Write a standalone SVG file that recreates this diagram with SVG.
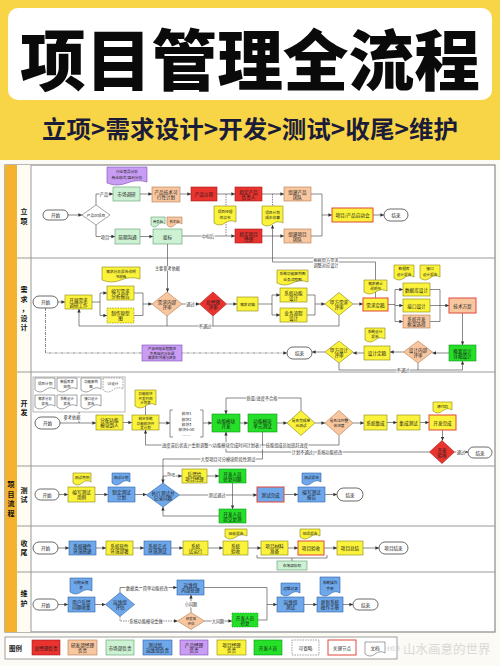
<svg xmlns="http://www.w3.org/2000/svg" width="500" height="666" viewBox="0 0 500 666">
<defs>
<marker id="a" markerUnits="userSpaceOnUse" markerWidth="4" markerHeight="4" refX="3.6" refY="2" orient="auto"><path d="M0,0.3 L3.8,2 L0,3.7 z" fill="#333"/></marker>
<style>
.t{font-family:"Noto Sans CJK SC","Noto Sans",sans-serif;font-size:4.6px;text-anchor:middle;dominant-baseline:central;fill:#1a1a1a}
.sm{font-size:3.7px}
.xs{font-size:3.4px}
.s3{font-size:3.5px}
.lb{font-family:"Noto Sans CJK SC","Noto Sans",sans-serif;font-size:4.2px;text-anchor:middle;dominant-baseline:central;fill:#333;paint-order:stroke;stroke:#fff;stroke-width:1.5px;stroke-linejoin:round}
.ln{font-family:"Noto Sans CJK SC",sans-serif;font-size:7px;font-weight:700;text-anchor:middle;dominant-baseline:central;fill:#111}
.red{fill:#e8332f;stroke:#a31c18;stroke-width:.6}
.org{fill:#f8c7a0;stroke:#b27a4e;stroke-width:.6}
.lg{fill:#cdf1d3;stroke:#5e9c6c;stroke-width:.6}
.blu{fill:#6ea7ea;stroke:#2e63a6;stroke-width:.6}
.pur{fill:#c99df3;stroke:#7b4db2;stroke-width:.6}
.yel{fill:#faf23b;stroke:#8b8512;stroke-width:.6}
.grn{fill:#25df28;stroke:#12971a;stroke-width:.6}
.wht{fill:#fff;stroke:#666;stroke-width:.6}
.key{stroke:#e2463c;stroke-width:1}
.dsh{stroke-dasharray:1.6 1}
.term{fill:#fff;stroke:#444;stroke-width:.8}
.c path{fill:none;stroke:#3a3a3a;stroke-width:.6}
.c .d{stroke-dasharray:1.5 1}
.c .dd{stroke-dasharray:3 1 1 1}
</style>
</defs>
<rect x="0" y="0" width="500" height="666" fill="#fbfaf4"/>
<rect x="0" y="0" width="500" height="160" fill="#f8d546"/>
<rect x="8" y="8" width="484" height="92" rx="10" fill="#fff"/>
<text x="250" y="56" font-family="Noto Sans CJK SC, sans-serif" font-size="66" font-weight="900" text-anchor="middle" dominant-baseline="central" fill="#0a0a0a" textLength="460" lengthAdjust="spacingAndGlyphs">项目管理全流程</text>
<text x="250" y="127" font-family="Noto Sans CJK SC, sans-serif" font-size="24" font-weight="700" text-anchor="middle" dominant-baseline="central" fill="#1b1b3a" textLength="416" lengthAdjust="spacingAndGlyphs">立项&gt;需求设计&gt;开发&gt;测试&gt;收尾&gt;维护</text>

<g id="frame">
<rect x="5" y="165" width="490" height="467" fill="#fff" stroke="#8a8a8a" stroke-width="1.2"/>
<rect x="5" y="165" width="12" height="467" fill="#f5b22e"/>
<rect x="17" y="165" width="14" height="467" fill="#fffdf3"/>
<path d="M17,258 H495 M17,372 H495 M17,466 H495 M17,526 H495 M17,572 H495 M31,165 V632" stroke="#9a9a9a" stroke-width="1" fill="none"/>
<text class="ln" x="11" y="484">项<tspan x="11" y="493.5">目</tspan><tspan x="11" y="503">流</tspan><tspan x="11" y="512.5">程</tspan></text>
<text class="ln" x="24" y="211">立<tspan x="24" y="220.5">项</tspan></text>
<text class="ln" x="24" y="289">需<tspan x="24" y="298.5">求</tspan><tspan x="25" y="308">，</tspan><tspan x="24" y="317.5">设</tspan><tspan x="24" y="327">计</tspan></text>
<text class="ln" x="24" y="402.5">开<tspan x="24" y="412">发</tspan></text>
<text class="ln" x="24" y="489.5">测<tspan x="24" y="499">试</tspan></text>
<text class="ln" x="24" y="542.5">收<tspan x="24" y="552">尾</tspan></text>
<text class="ln" x="24" y="593">维<tspan x="24" y="603">护</tspan></text>
</g>

<g id="connectors" class="c">
<path d="M68,215 H82" marker-end="url(#a)"/>
<path d="M96,205 V194 H113" marker-end="url(#a)"/>
<path d="M96,225 V236.5 H115" marker-end="url(#a)"/>
<path d="M140,194 H152" marker-end="url(#a)"/>
<path d="M180,194 H191" marker-end="url(#a)"/>
<path d="M217,194 H235" marker-end="url(#a)"/>
<path d="M262,194 H284" marker-end="url(#a)"/>
<path d="M140,236.5 H153" marker-end="url(#a)"/>
<path d="M182,236 H235" marker-end="url(#a)"/>
<path d="M262,236 H284" marker-end="url(#a)"/>
<path d="M311,194 H322 V236 H311"/>
<path d="M322,215 H332" marker-end="url(#a)"/>
<path d="M373,215 H384" marker-end="url(#a)"/>
<path class="d" d="M226,194 V236"/>
<path class="d" d="M272.5,194 V206"/>
<path d="M375.5,298 V262 H272.5 V225" marker-end="url(#a)"/>
<path d="M167.5,244 V292" marker-end="url(#a)"/>

<path d="M58,302 H65" marker-end="url(#a)"/>
<path d="M92,302 H100"/>
<path d="M100,302 V293 H107" marker-end="url(#a)"/>
<path d="M100,302 V315.5 H107" marker-end="url(#a)"/>
<path d="M134,293 H143 V315.5 H134"/>
<path d="M143,304 H152" marker-end="url(#a)"/>
<path d="M182,304 H199.5" marker-end="url(#a)"/>
<path d="M226.5,304 H237" marker-end="url(#a)"/>
<path d="M258,304 H272"/>
<path d="M272,304 V295 H280" marker-end="url(#a)"/>
<path d="M272,304 V315 H280" marker-end="url(#a)"/>
<path d="M307,295 H315 V315 H307"/>
<path d="M315,304 H325" marker-end="url(#a)"/>
<path d="M353,304 H363" marker-end="url(#a)"/>
<path d="M388,304.5 H395"/>
<path d="M395,304.5 V289.5 H403" marker-end="url(#a)"/>
<path d="M395,304.5 V321.5 H403" marker-end="url(#a)"/>
<path d="M395,305.5 H403" marker-end="url(#a)"/>
<path d="M430,289.5 H440 V321.5 H430 M430,305.5 H440"/>
<path d="M440,305.5 H449" marker-end="url(#a)"/>
<path d="M462.5,313 V345" marker-end="url(#a)"/>
<path d="M449,353 H432.5" marker-end="url(#a)"/>
<path d="M403.5,352 H390" marker-end="url(#a)"/>
<path d="M364,353 H353" marker-end="url(#a)"/>
<path d="M325,352 H312" marker-end="url(#a)"/>
<path d="M167,316 V326 M213,316 V326"/>
<path d="M339,315.5 V326 H79 V309" marker-end="url(#a)"/>
<path d="M418,363 V370"/>
<path d="M339,363 V370 H462.5 V361" marker-end="url(#a)"/>
<path class="dd" d="M45.5,308 V353 H287" marker-end="url(#a)"/>

<path d="M79,412 V423"/>
<path d="M60,423 H96" marker-end="url(#a)"/>
<path d="M123,422.5 H132" marker-end="url(#a)"/>
<path d="M145.5,406 V415"/>
<path d="M159,423 H170" marker-end="url(#a)"/>
<path d="M203,423 H212" marker-end="url(#a)"/>
<path d="M240,423 H248" marker-end="url(#a)"/>
<path d="M277,423 H287" marker-end="url(#a)"/>
<path d="M315,423 H325" marker-end="url(#a)"/>
<path d="M353,423 H364" marker-end="url(#a)"/>
<path d="M387,422.5 H397" marker-end="url(#a)"/>
<path d="M420,422.5 H429" marker-end="url(#a)"/>
<path d="M442.5,430 V440.5" marker-end="url(#a)"/>
<path d="M454.5,452 H468" marker-end="url(#a)"/>
<path d="M301,410.5 V398 H226 V414" marker-end="url(#a)"/>
<path d="M339,435.5 V445 H145.5 V430" marker-end="url(#a)"/>
<path d="M429.5,452 H226 V432" marker-end="url(#a)"/>
<path d="M262.5,432 V459 H163 V483" marker-end="url(#a)"/>

<path d="M59,494.5 H68" marker-end="url(#a)"/>
<path d="M95,494.5 H108" marker-end="url(#a)"/>
<path d="M135,494.5 H146.5" marker-end="url(#a)"/>
<path d="M179.5,495 H257" marker-end="url(#a)"/>
<path d="M163,483 V476 H182" marker-end="url(#a)"/>
<path d="M207,476 H219" marker-end="url(#a)"/>
<path d="M232.5,483 V509" marker-end="url(#a)"/>
<path d="M219,516 H163 V507" marker-end="url(#a)"/>
<path d="M284,494.5 H298" marker-end="url(#a)"/>
<path d="M325,494.5 H337" marker-end="url(#a)"/>

<path d="M58,548 H69" marker-end="url(#a)"/>
<path d="M96,548 H106" marker-end="url(#a)"/>
<path d="M133,548 H144" marker-end="url(#a)"/>
<path d="M171,548 H183" marker-end="url(#a)"/>
<path d="M208,548 H223" marker-end="url(#a)"/>
<path d="M248,548 H261" marker-end="url(#a)"/>
<path d="M288,548 H298" marker-end="url(#a)"/>
<path d="M324,548 H337" marker-end="url(#a)"/>
<path d="M363,548 H379" marker-end="url(#a)"/>
<path d="M257,555 V558 H327 V555 M292,558 V561"/>

<path d="M58,604.5 H68" marker-end="url(#a)"/>
<path d="M95,604.5 H105.5" marker-end="url(#a)"/>
<path d="M120,592.5 V587.5 H177" marker-end="url(#a)"/>
<path class="d" d="M120,616.5 V621 H177.5" marker-end="url(#a)"/>
<path d="M191,612.5 V595" marker-end="url(#a)"/>
<path d="M204.5,621 H232" marker-end="url(#a)"/>
<path d="M204,587.5 H267 V604.5 M258,620 H267 V604.5"/>
<path d="M267,604.5 H277" marker-end="url(#a)"/>
<path d="M304,604.5 H317" marker-end="url(#a)"/>
<path d="M343,604.5 H353" marker-end="url(#a)"/>
</g>

<g id="labels">
<text class="lb" x="104" y="194">产品</text>
<text class="lb" x="105" y="236.5">项目</text>
<text class="lb" x="208" y="236">中标后</text>
<text class="lb" x="167.5" y="268">主要参考依据</text>
<text class="lb" x="326" y="259.5">根据甲方需求<tspan x="326" y="265">调整对应设计</tspan></text>
<text class="lb" x="190.5" y="304">通过</text>
<text class="lb" x="205" y="326">不通过</text>
<text class="lb" x="403" y="370">不通过</text>
<text class="lb" x="72" y="416.5">参考依据</text>
<text class="lb" x="262" y="398">质量/进度不合格</text>
<text class="lb" x="235" y="445" font-size="4" textLength="146" lengthAdjust="spacingAndGlyphs">进度滞后状态，重新调整（功能模块完成时间计划表），技能组成员加班赶进度</text>
<text class="lb" x="317" y="452">计划不通过，系统功能修改</text>
<text class="lb" x="228" y="459">大型项目可分模块阶段性测试</text>
<text class="lb" x="461" y="452">通过</text>
<text class="lb" x="171" y="473.5">Bug</text>
<text class="lb" x="217" y="495">测试通过</text>
<text class="lb" x="147" y="587.5">数据类、简单功能修改</text>
<text class="lb" x="146" y="621">系统功能模块重做</text>
<text class="lb" x="191" y="604">小问题</text>
<text class="lb" x="218" y="621">大问题</text>
</g>

<g id="lixiang">
<g id="lx-start"><rect class="term" x="43" y="210" width="25" height="10" rx="5"/><text class="t" x="55.5" y="215">开始</text></g>
<g id="lx-choice"><polygon class="wht" points="82,215 96,205 110,215 96,225"/><text class="t sm" x="96" y="215">产品or项目</text></g>
<g id="lx-doc-jingpin"><path class="pur" d="M107,167 H147 V182 Q137,179 127,183 T107,183 Z"/><text class="t sm" x="127" y="171.5">行业竞品分析<tspan x="127" y="176.5">商业模式/盈利分析</tspan></text></g>
<g id="lx-shichang"><rect class="lg" x="113" y="187" width="27" height="14"/><text class="t" x="126.5" y="194">市场调研</text></g>
<g id="lx-kexing"><rect class="org" x="152" y="187" width="28" height="15"/><text class="t" x="166" y="192">产品技术可<tspan x="166" y="197">行性计划</tspan></text></g>
<g id="lx-lixiang"><rect class="red" x="191" y="187" width="26" height="14"/><text class="t" x="204" y="194">产品立项</text></g>
<g id="lx-fuzeren"><rect class="red" x="235" y="187" width="27" height="14"/><text class="t" x="248.5" y="191.5">指定产品<tspan x="248.5" y="196.5">负责人</tspan></text></g>
<g id="lx-chanpintuandui"><rect class="org" x="284" y="187" width="27" height="14"/><text class="t" x="297.5" y="191.5">组建产品<tspan x="297.5" y="196.5">团队</tspan></text></g>
<g id="lx-goutong"><rect class="lg" x="115" y="229" width="25" height="15"/><text class="t" x="127.5" y="236.5">前期沟通</text></g>
<g id="lx-doc-shangwu"><path class="lg" d="M151,217 H165 V224 Q161.5,221 158,225 T151,225 Z"/><text class="t xs" x="158" y="221">商务标</text></g>
<g id="lx-doc-jishu"><path class="org" d="M167,217 H182 V224 Q178.25,221 174.5,225 T167,225 Z"/><text class="t xs" x="174.5" y="221">技术标</text></g>
<g id="lx-toubiao"><rect class="lg" x="153" y="229" width="29" height="15"/><text class="t" x="167.5" y="236.5">投标</text></g>
<g id="lx-jingli"><rect class="red" x="235" y="229" width="27" height="14"/><text class="t" x="248.5" y="233.5">指定项目<tspan x="248.5" y="238.5">经理</tspan></text></g>
<g id="lx-xiangmutuandui"><rect class="org" x="284" y="229" width="27" height="14"/><text class="t" x="297.5" y="233.5">组建项目<tspan x="297.5" y="238.5">团队</tspan></text></g>
<g id="lx-doc-renming"><path class="yel" d="M214,206 H236 V222 Q230.5,219 225,223 T214,223 Z"/><text class="t sm" x="225" y="211.5">项目经理<tspan x="225" y="216.5">任命书</tspan></text></g>
<g id="lx-doc-jihua"><path class="yel" d="M262,206 H283 V223 Q277.75,220 272.5,224 T262,224 Z"/><text class="t sm" x="272.5" y="212">项目计划<tspan x="272.5" y="217">成本估算</tspan></text></g>
<g id="lx-qidong"><rect class="yel key" x="332" y="208" width="41" height="14"/><text class="t" x="352.5" y="215">项目/产品启动会</text></g>
<g id="lx-end"><rect class="term" x="384" y="209" width="24" height="12" rx="6"/><text class="t" x="396" y="215">结束</text></g>
</g>

<g id="xuqiu">
<g id="xq-start"><rect class="term" x="33" y="296" width="25" height="12" rx="6"/><text class="t" x="45.5" y="302">开始</text></g>
<g id="xq-diaoyan"><rect class="yel" x="65" y="295" width="27" height="14"/><text class="t" x="78.5" y="299.5">开展需求<tspan x="78.5" y="304.5">调研工作</tspan></text></g>
<g id="xq-doc-moban"><path class="yel" d="M102,267 H140 V279 Q130.5,276 121,280 T102,280 Z"/><text class="t sm" x="121" y="271">需求分析报告说明<tspan x="121" y="275.6">书模板</tspan></text></g>
<g id="xq-baogao"><rect class="yel" x="107" y="286" width="27" height="14"/><text class="t" x="120.5" y="290.5">编写需求<tspan x="120.5" y="295.5">分析报告</tspan></text></g>
<g id="xq-yuanxing"><rect class="yel dsh" x="107" y="308" width="27" height="15"/><text class="t" x="120.5" y="313">制作原型<tspan x="120.5" y="318">图</tspan></text></g>
<g id="xq-neiping"><polygon class="org" points="152,304 167,292 182,304 167,316"/><text class="t" x="167" y="301.5">需求内部<tspan x="167" y="306.5">评审</tspan></text></g>
<g id="xq-zongjingli"><polygon class="red" points="199.5,304 213,292 226.5,304 213,316"/><text class="t" x="213" y="301.5">总经理<tspan x="213" y="306.5">评审</tspan></text></g>
<g id="xq-chugao"><rect class="yel" x="237" y="297" width="21" height="14"/><text class="t sm" x="247.5" y="304">需求初稿</text></g>
<g id="xq-doc-jiagou"><path class="yel" d="M277,270 H308 V282 Q300.25,279 292.5,283 T277,283 Z"/><text class="t sm" x="292.5" y="273.9">系统功能架构图<tspan x="292.5" y="278.5">业务流程图</tspan></text></g>
<g id="xq-gongneng"><rect class="yel" x="280" y="288" width="27" height="14"/><text class="t" x="293.5" y="292.5">系统功能<tspan x="293.5" y="297.5">设计</tspan></text></g>
<g id="xq-liucheng"><rect class="yel" x="280" y="308" width="27" height="14"/><text class="t" x="293.5" y="312.5">业务流程<tspan x="293.5" y="317.5">设计</tspan></text></g>
<g id="xq-jiafang"><polygon class="yel" points="325,304 339,292.5 353,304 339,315.5"/><text class="t" x="339" y="301.5">甲方需求<tspan x="339" y="306.5">评审</tspan></text></g>
<g id="xq-doc-queren"><path class="yel" d="M364,280 H387 V291 Q381.25,288 375.5,292 T364,292 Z"/><text class="t sm" x="375.5" y="283.4">需求确认<tspan x="375.5" y="288">说明书</tspan></text></g>
<g id="xq-dinggao"><rect class="yel key" x="363" y="298" width="25" height="13"/><text class="t" x="375.5" y="304.5">需求定稿</text></g>
<g id="xq-doc-shujuku"><path class="yel" d="M394,265 H414 V277 Q409,274 404,278 T394,278 Z"/><text class="t sm" x="404" y="268.9">数据库<tspan x="404" y="273.5">设计报告</tspan></text></g>
<g id="xq-doc-jiekou"><path class="yel" d="M420,265 H440 V277 Q435,274 430,278 T420,278 Z"/><text class="t sm" x="430" y="268.9">接口<tspan x="430" y="273.5">设计报告</tspan></text></g>
<g id="xq-shujuku"><rect class="yel" x="403" y="283" width="27" height="13"/><text class="t" x="416.5" y="289.5">数据库设计</text></g>
<g id="xq-jiekou"><rect class="yel" x="403" y="299" width="27" height="13"/><text class="t" x="416.5" y="305.5">接口设计</text></g>
<g id="xq-kuangjia"><rect class="org" x="403" y="315" width="27" height="13"/><text class="t" x="416.5" y="319.1">系统开发<tspan x="416.5" y="324">框架选择</tspan></text></g>
<g id="xq-fangan"><rect class="org key" x="449" y="298" width="27" height="15"/><text class="t" x="462.5" y="305.5">技术方案</text></g>
<g id="xq-gaiyao"><rect class="grn" x="449" y="345" width="27" height="16"/><text class="t" x="462.5" y="350.5">概要设计<tspan x="462.5" y="355.5">详细设计</tspan></text></g>
<g id="xq-sheji-neiping"><polygon class="org" points="403.5,352 418,341 432.5,352 418,363"/><text class="t" x="418" y="349.5">设计内部<tspan x="418" y="354.5">评审</tspan></text></g>
<g id="xq-doc-sheji"><path class="yel" d="M365,328 H385 V339 Q380,336 375,340 T365,340 Z"/><text class="t sm" x="375" y="331.4">系统设计<tspan x="375" y="336">报告</tspan></text></g>
<g id="xq-sheji-dinggao"><rect class="yel" x="364" y="346" width="26" height="14"/><text class="t" x="377" y="353">设计定稿</text></g>
<g id="xq-sheji-jiafang"><polygon class="yel" points="325,352 339,341 353,352 339,363"/><text class="t" x="339" y="349.5">甲方设计<tspan x="339" y="354.5">评审</tspan></text></g>
<g id="xq-end"><rect class="term" x="287" y="347" width="25" height="12" rx="6"/><text class="t" x="299.5" y="353">结束</text></g>
<g id="xq-chanpinjingli"><rect class="pur" x="142" y="345" width="40" height="16"/><text class="t s3" x="162" y="348.6">产品经理全程跟进<tspan x="162" y="353">负责组织与协调</tspan><tspan x="162" y="357.4">需求的沟通与把关</tspan></text></g>
</g>

<g id="kaifa">
<g id="kf-docs">
<rect x="33" y="377" width="92" height="35" fill="#fff" stroke="#888" stroke-width=".6"/>
<path class="wht" d="M35,378 H55 V389 Q50,386 45,390 T35,390 Z"/><text class="t sm" x="45" y="383.5">项目计划</text>
<path class="wht" d="M57,378 H77 V389 Q72,386 67,390 T57,390 Z"/><text class="t xs" x="67" y="381.5">数据库表<tspan x="67" y="386">结构</tspan></text>
<path class="wht" d="M81,378 H101 V389 Q96,386 91,390 T81,390 Z"/><text class="t xs" x="91" y="381.5">功能架构<tspan x="91" y="386">图</tspan></text>
<path class="wht dsh" d="M103,378 H123 V389 Q118,386 113,390 T103,390 Z"/><text class="t sm" x="113" y="383.5">UI设计</text>
<path class="wht" d="M35,395 H55 V406 Q50,403 45,407 T35,407 Z"/><text class="t xs" x="45" y="398.5">需求分析<tspan x="45" y="403">报告</tspan></text>
<path class="wht" d="M57,395 H77 V406 Q72,403 67,407 T57,407 Z"/><text class="t xs" x="67" y="398.5">系统设计<tspan x="67" y="403">报告</tspan></text>
<path class="wht" d="M81,395 H101 V406 Q96,403 91,407 T81,407 Z"/><text class="t xs" x="91" y="398.5">接口设计<tspan x="91" y="403">报告</tspan></text>
</g>
<g id="kf-start"><rect class="term" x="35" y="417" width="25" height="12" rx="6"/><text class="t" x="47.5" y="423">开始</text></g>
<g id="kf-fenpei"><rect class="yel" x="96" y="415" width="27" height="15"/><text class="t" x="109.5" y="420">分配功能<tspan x="109.5" y="425">模块到人</tspan></text></g>
<g id="kf-doc-jihua"><path class="yel" d="M135,390 H156 V405 Q150.75,402 145.5,406 T135,406 Z"/><text class="t s3" x="145.5" y="393.4">功能模块<tspan x="145.5" y="397.8">开发时间</tspan><tspan x="145.5" y="402.2">计划表</tspan></text></g>
<g id="kf-zhiding"><rect class="yel" x="132" y="415" width="27" height="15"/><text class="t s3" x="145.5" y="418.1">制定系统<tspan x="145.5" y="422.5">功能模块开</tspan><tspan x="145.5" y="426.9">发计划</tspan></text></g>
<g id="kf-mokuai"><path d="M173,410 H170 V437 H173 M200,410 H203 V437 H200" fill="none" stroke="#444" stroke-width=".6"/><text class="t sm" x="186.5" y="413.5">模块1<tspan x="186.5" y="418.5">模块2</tspan><tspan x="186.5" y="423.5">模块3</tspan><tspan x="186.5" y="428.5">模块4+5n</tspan><tspan x="186.5" y="433.5">……</tspan></text></g>
<g id="kf-kaifa"><rect class="grn" x="212" y="414" width="28" height="18"/><text class="t" x="226" y="420.5">功能模块<tspan x="226" y="425.5">开发</tspan></text></g>
<g id="kf-danyuan"><rect class="grn" x="248" y="414" width="29" height="18"/><text class="t" x="262.5" y="420.5">功能模块<tspan x="262.5" y="425.5">单元测试</tspan></text></g>
<g id="kf-wancheng-pd"><polygon class="yel" points="287,423 301,410.5 315,423 301,435.5"/><text class="t sm" x="301" y="420.6">是否完成单<tspan x="301" y="425.3">元测试</tspan></text></g>
<g id="kf-jindu-pd"><polygon class="org" points="325,423 339,410.5 353,423 339,435.5"/><text class="t sm" x="339" y="420.6">是否达到整<tspan x="339" y="425.3">体进度</tspan></text></g>
<g id="kf-jicheng"><rect class="yel" x="364" y="415" width="23" height="15"/><text class="t" x="375.5" y="422.5">系统集成</text></g>
<g id="kf-jiceshi"><rect class="yel" x="397" y="415" width="23" height="15"/><text class="t" x="408.5" y="422.5">集成测试</text></g>
<g id="kf-wancheng"><rect class="yel key" x="429" y="415" width="27" height="15"/><text class="t" x="442.5" y="422.5">开发完成</text></g>
<g id="kf-doc-code"><path class="yel" d="M433,402 H452 V410 Q447.25,407 442.5,411 T433,411 Z"/><text class="t sm" x="442.5" y="406">源代码</text></g>
<g id="kf-yanshou"><polygon class="red" points="429.5,452 442,440.5 454.5,452 442,463.5"/><text class="t" x="442" y="449.5">开发<tspan x="442" y="454.5">验收</tspan></text></g>
<g id="kf-end"><rect class="term" x="468" y="447" width="24" height="11" rx="5.5"/><text class="t" x="480" y="452.5">结束</text></g>
</g>

<g id="ceshi">
<g id="cs-start"><rect class="term" x="35" y="489" width="24" height="11" rx="5.5"/><text class="t" x="47" y="494.5">开始</text></g>
<g id="cs-doc-yongli"><path class="yel" d="M73,473 H91 V482 Q86.5,479 82,483 T73,483 Z"/><text class="t sm" x="82" y="477.5">测试用例</text></g>
<g id="cs-yongli"><rect class="yel" x="68" y="487" width="27" height="15"/><text class="t" x="81.5" y="492">编写测试<tspan x="81.5" y="497">用例</tspan></text></g>
<g id="cs-doc-jihua"><path class="blu" d="M112,473 H130 V482 Q125.5,479 121,483 T112,483 Z"/><text class="t sm" x="121" y="477.5">测试计划</text></g>
<g id="cs-jihua"><rect class="blu" x="108" y="487" width="27" height="15"/><text class="t" x="121.5" y="492">制定测试<tspan x="121.5" y="497">计划</tspan></text></g>
<g id="cs-zhixing"><polygon class="blu" points="146.5,495 163,483 179.5,495 163,507"/><text class="t" x="163" y="492.5">执行测试并<tspan x="163" y="497.5">记录问题</tspan></text></g>
<g id="cs-fankui"><rect class="yel" x="182" y="469" width="25" height="14"/><text class="t" x="194.5" y="473.5">反馈给<tspan x="194.5" y="478.5">项目经理</tspan></text></g>
<g id="cs-xiufu"><rect class="grn" x="219" y="469" width="27" height="14"/><text class="t" x="232.5" y="473.5">开发人员<tspan x="232.5" y="478.5">修复问题</tspan></text></g>
<g id="cs-fuce"><rect class="grn" x="219" y="509" width="27" height="14"/><text class="t" x="232.5" y="513.5">开发人员<tspan x="232.5" y="518.5">提交复测</tspan></text></g>
<g id="cs-wancheng"><rect class="blu key" x="257" y="487" width="27" height="15"/><text class="t" x="270.5" y="494.5">测试完成</text></g>
<g id="cs-doc-baogao"><path class="blu" d="M302,473 H321 V482 Q316.25,479 311.5,483 T302,483 Z"/><text class="t sm" x="311.5" y="477.5">测试报告</text></g>
<g id="cs-baogao"><rect class="blu" x="298" y="487" width="27" height="15"/><text class="t" x="311.5" y="492">编写测试<tspan x="311.5" y="497">报告</tspan></text></g>
<g id="cs-end"><rect class="term" x="337" y="488" width="26" height="13" rx="6.5"/><text class="t" x="350" y="494.5">结束</text></g>
</g>

<g id="shouwei">
<g id="sw-start"><rect class="term" x="33" y="542" width="25" height="12" rx="6"/><text class="t" x="45.5" y="548">开始</text></g>
<g id="sw-yingjian"><rect class="blu" x="69" y="541" width="27" height="14"/><text class="t" x="82.5" y="545.5">系统硬件<tspan x="82.5" y="550.5">环境搭建</tspan></text></g>
<g id="sw-ruanjian"><rect class="yel" x="106" y="541" width="27" height="14"/><text class="t" x="119.5" y="545.5">系统软件<tspan x="119.5" y="550.5">环境部署</tspan></text></g>
<g id="sw-zhengshi"><rect class="blu" x="144" y="541" width="27" height="14"/><text class="t" x="157.5" y="545.5">系统正式<tspan x="157.5" y="550.5">环境测试</tspan></text></g>
<g id="sw-shiyunxing"><rect class="yel" x="183" y="541" width="25" height="14"/><text class="t" x="195.5" y="545.5">系统<tspan x="195.5" y="550.5">试运行</tspan></text></g>
<g id="sw-xitongyanshou"><rect class="yel" x="223" y="541" width="25" height="14"/><text class="t" x="235.5" y="545.5">系统<tspan x="235.5" y="550.5">验收</tspan></text></g>
<g id="sw-doc-yanshou"><path class="yel" d="M225,529 H247 V536 Q241.5,533 236,537 T225,537 Z"/><text class="t sm" x="236" y="533">验收报告</text></g>
<g id="sw-cailiao"><rect class="yel" x="261" y="541" width="27" height="14"/><text class="t" x="274.5" y="545.5">项目材料<tspan x="274.5" y="550.5">准备</tspan></text></g>
<g id="sw-xiangmuyanshou"><rect class="yel key" x="298" y="541" width="26" height="14"/><text class="t" x="311" y="548">项目验收</text></g>
<g id="sw-doc-jiexiang"><path class="yel" d="M300,529 H320 V536 Q315,533 310,537 T300,537 Z"/><text class="t sm" x="310" y="533">结项报告</text></g>
<g id="sw-zongjie"><rect class="yel" x="337" y="541" width="26" height="14"/><text class="t" x="350" y="548">项目总结</text></g>
<g id="sw-end"><rect class="term" x="379" y="542" width="29" height="12" rx="6"/><text class="t" x="393.5" y="548">项目结束</text></g>
<g id="sw-shichang"><rect class="lg" x="277" y="561" width="30" height="9"/><text class="t sm" x="292" y="565.5">市场部协助</text></g>
</g>

<g id="weihu">
<g id="wh-doc-fankui"><path class="blu" d="M70,578 H92 V591 Q86.5,588 81,592 T70,592 Z"/><text class="t sm" x="81" y="582.4">问题反馈<tspan x="81" y="587">表</tspan></text></g>
<g id="wh-start"><rect class="term" x="33" y="599" width="25" height="11" rx="5.5"/><text class="t" x="45.5" y="604.5">开始</text></g>
<g id="wh-shouji"><rect class="blu" x="68" y="597" width="27" height="15"/><text class="t" x="81.5" y="602">用户反馈<tspan x="81.5" y="607">问题收集</tspan></text></g>
<g id="wh-pinggu"><polygon class="blu" points="105.5,604.5 120,592.5 134.5,604.5 120,616.5"/><text class="t" x="120" y="602">运维组<tspan x="120" y="607">评估</tspan></text></g>
<g id="wh-neibu"><rect class="blu" x="177" y="580" width="27" height="15"/><text class="t" x="190.5" y="585">运维组<tspan x="190.5" y="590">内部处理</tspan></text></g>
<g id="wh-yanfa"><polygon class="org" points="177.5,621 191,612.5 204.5,621 191,629.5"/><text class="t xs" x="191" y="618.8">研发部<tspan x="191" y="623.2">评估</tspan></text></g>
<g id="wh-xiufu"><rect class="grn dsh" x="232" y="613" width="26" height="14"/><text class="t" x="245" y="617.5">开发人员<tspan x="245" y="622.5">修复</tspan></text></g>
<g id="wh-ceshi"><rect class="blu" x="277" y="597" width="27" height="15"/><text class="t" x="290.5" y="602">运维组<tspan x="290.5" y="607">测试</tspan></text></g>
<g id="wh-doc-jilu"><path class="blu" d="M281,583 H300 V593 Q295.25,590 290.5,594 T281,594 Z"/><text class="t sm" x="290.5" y="588">运维记录</text></g>
<g id="wh-doc-shouce"><path class="blu" d="M320,577 H340 V593 Q335,590 330,594 T320,594 Z"/><text class="t sm" x="330" y="582.9">系统操作<tspan x="330" y="587.5">手册</tspan></text></g>
<g id="wh-gengxin"><rect class="blu" x="317" y="597" width="26" height="15"/><text class="t" x="330" y="602">更新系统<tspan x="330" y="607">操作手册</tspan></text></g>
<g id="wh-end"><rect class="term" x="353" y="599" width="25" height="11" rx="5.5"/><text class="t" x="365.5" y="604.5">结束</text></g>
</g>

<g id="legend">
<rect x="5" y="637" width="392" height="22" fill="#fff" stroke="#888" stroke-width=".8"/>
<text x="15.5" y="648" font-family="Noto Sans CJK SC, sans-serif" font-size="6.5" font-weight="700" text-anchor="middle" dominant-baseline="central" fill="#222">图例</text>
<rect class="red" x="32" y="640" width="28" height="15"/><text class="t" x="46" y="647.5">总经理负责</text>
<rect class="org" x="68" y="640" width="29" height="15"/><text class="t" x="82.5" y="645">研发部经理<tspan x="82.5" y="650">负责</tspan></text>
<rect class="lg" x="106" y="640" width="28" height="15"/><text class="t" x="120" y="647.5">市场部负责</text>
<rect class="blu" x="143" y="640" width="29" height="15"/><text class="t" x="157.5" y="645">测试组、<tspan x="157.5" y="650">运维组负责</tspan></text>
<rect class="pur" x="180" y="640" width="28" height="15"/><text class="t" x="194" y="645">产品经理<tspan x="194" y="650">负责</tspan></text>
<rect class="yel" x="217" y="640" width="29" height="15"/><text class="t" x="231.5" y="645">项目经理<tspan x="231.5" y="650">负责</tspan></text>
<rect class="grn" x="254" y="640" width="28" height="15"/><text class="t" x="268" y="647.5">开发人员</text>
<rect class="wht dsh" x="292" y="640" width="27" height="15"/><text class="t" x="305.5" y="647.5">可省略</text>
<rect x="328" y="640" width="28" height="15" fill="#fff" stroke="#e2463c" stroke-width="1"/><text class="t" x="342" y="647.5">关键节点</text>
<path class="wht" d="M365,642 H385 V653 Q380,650 375,654 T365,654 Z"/><text class="t" x="375" y="647.5">文档</text>
</g>
<g id="watermark" opacity="0.75">
<text x="393" y="648" font-family="Noto Sans CJK SC, sans-serif" font-size="4.5" font-weight="700" text-anchor="middle" dominant-baseline="central" fill="#c8c8c8">小红书</text>
<text x="403" y="648" font-family="Noto Sans CJK SC, sans-serif" font-size="12.5" text-anchor="start" dominant-baseline="central" fill="#cfcfcf">山水画意的世界</text>
</g>
</svg>
